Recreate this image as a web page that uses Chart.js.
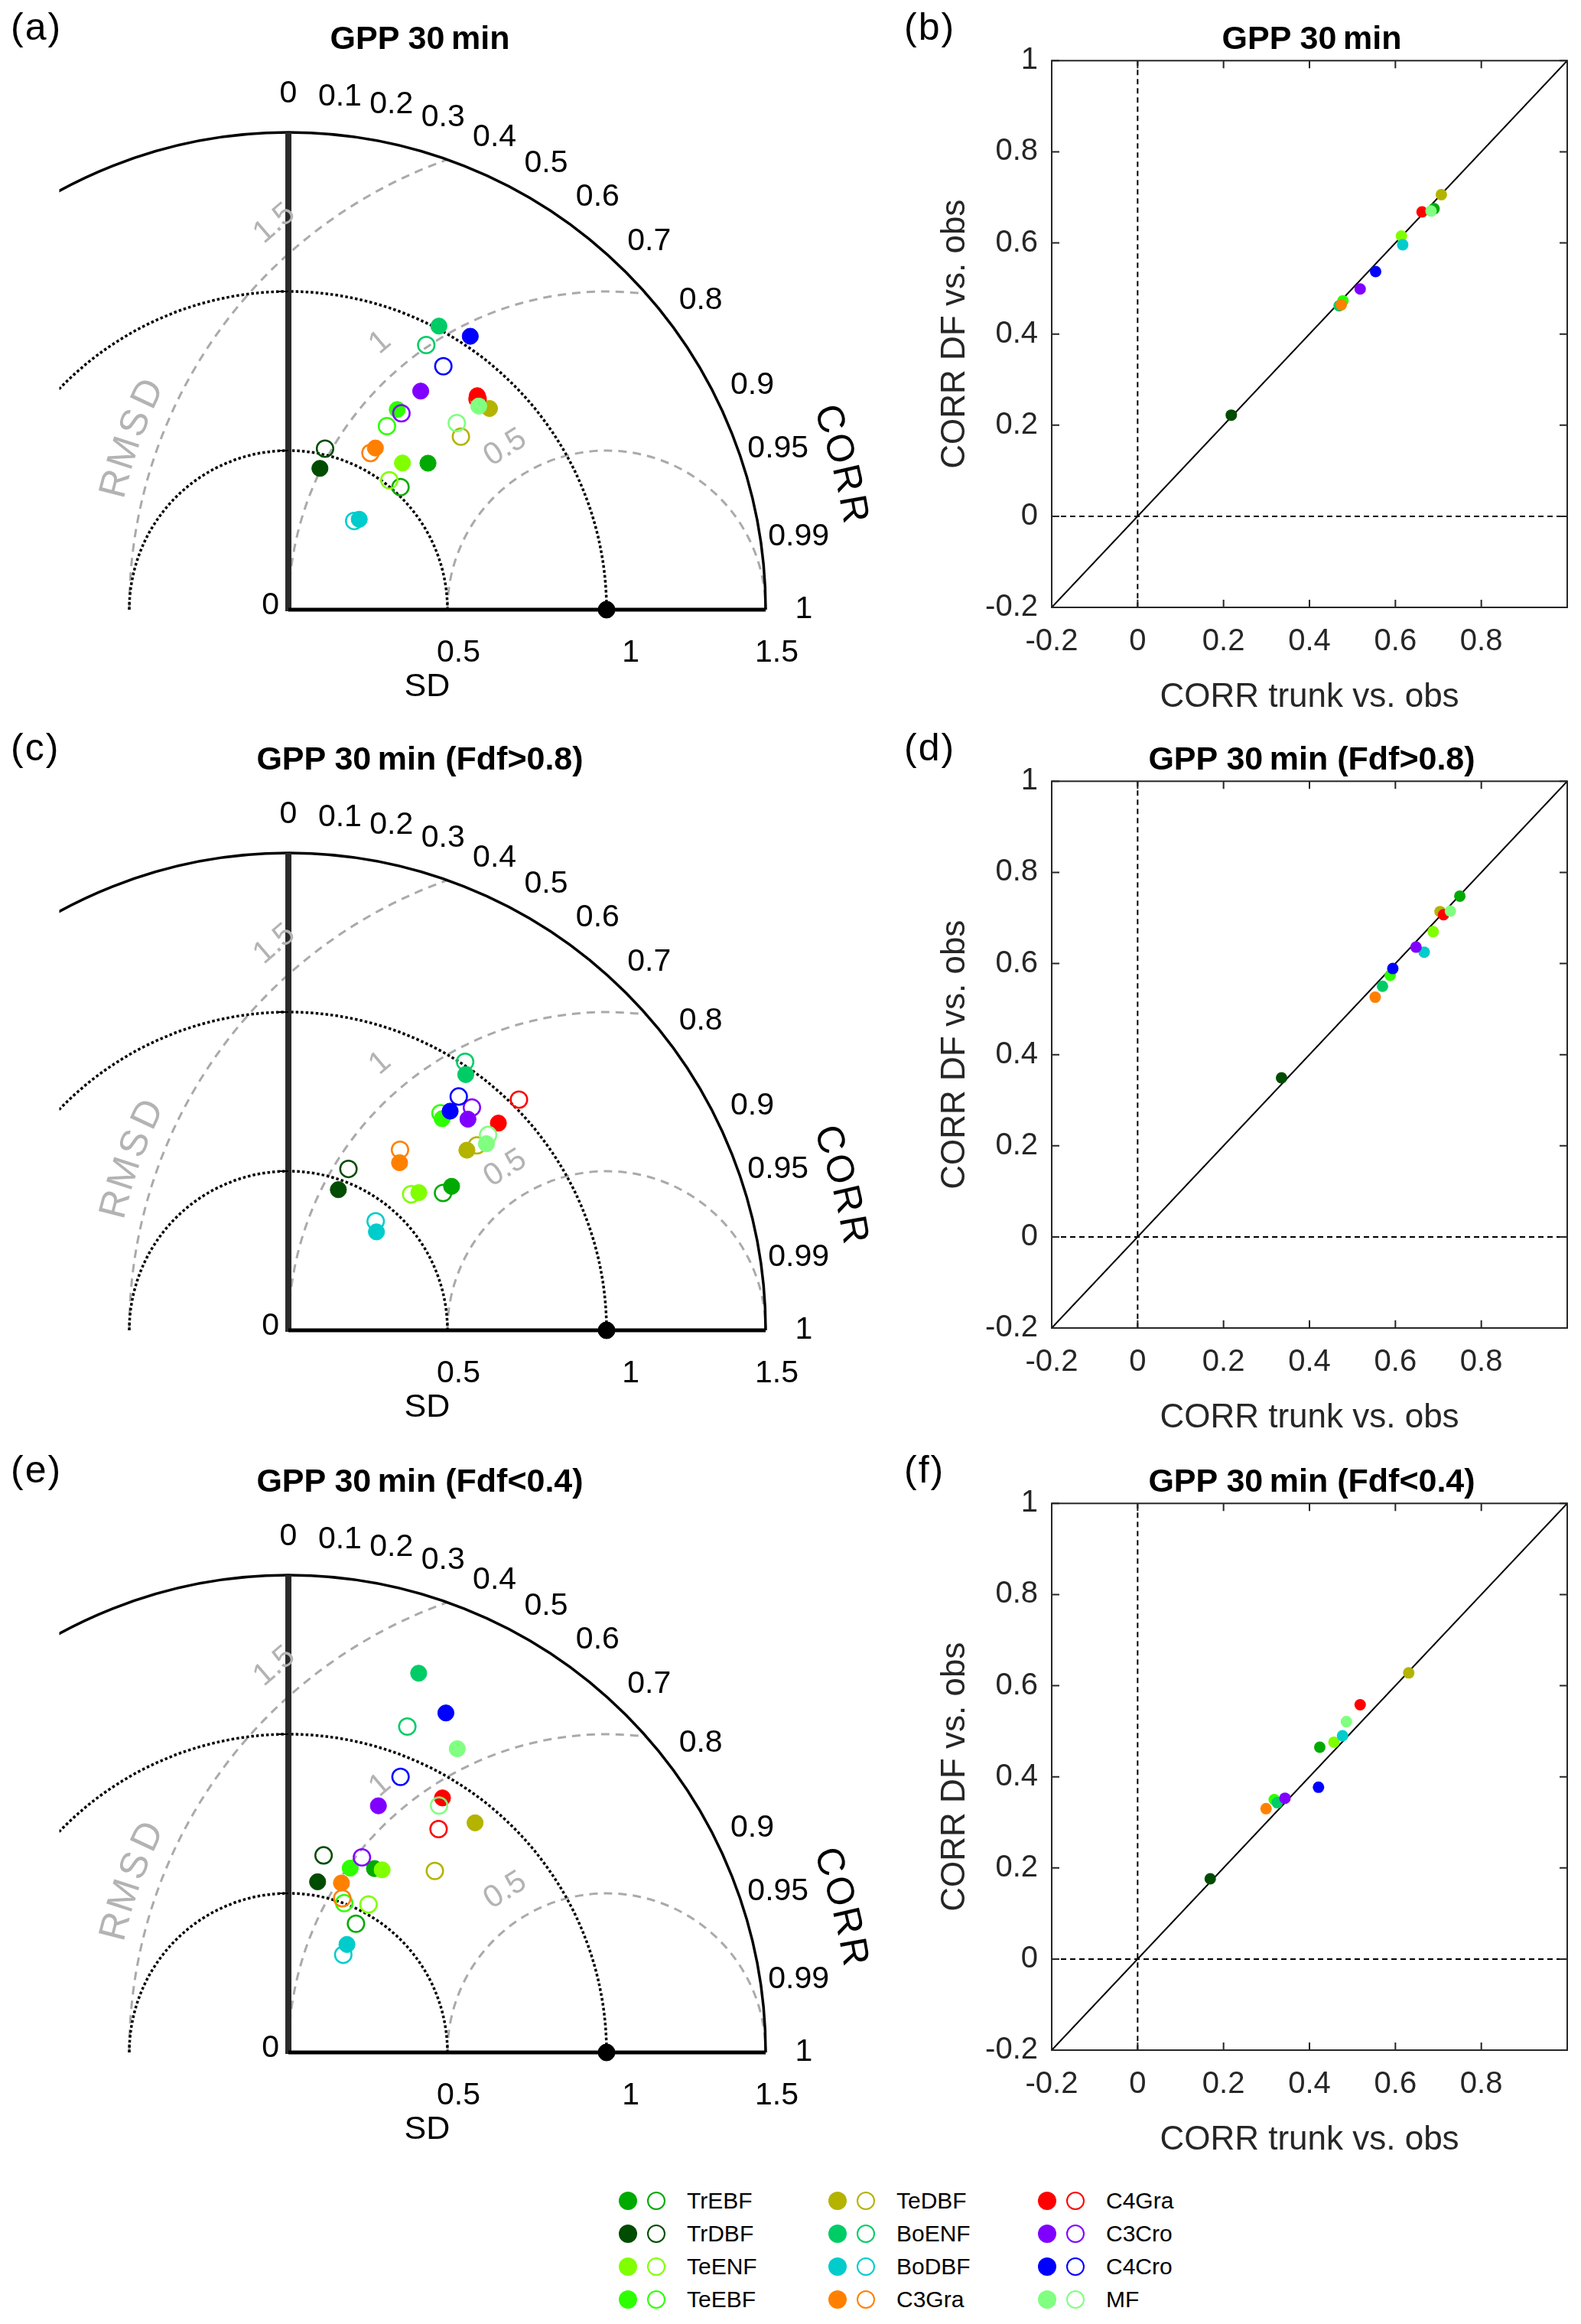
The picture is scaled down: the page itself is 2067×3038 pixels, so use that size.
<!DOCTYPE html>
<html>
<head>
<meta charset="utf-8">
<script src="https://cdn.jsdelivr.net/npm/chart.js@4.4.1/dist/chart.umd.min.js"></script>
<style>
html, body { margin: 0; padding: 0; background: #fff; }
body { width: 2067px; height: 3038px; position: relative; overflow: hidden; font-family: 'Liberation Sans', Arial, sans-serif; }
canvas { position: absolute; }
.ttl { position: absolute; width: 800px; text-align: center; font-weight: bold; font-size: 43px; line-height: 43px; color: #000; white-space: nowrap; }
.lab { position: absolute; font-size: 50px; line-height: 50px; letter-spacing: 2px; color: #000; }
.dot { position: absolute; width: 24px; height: 24px; border-radius: 50%; box-sizing: border-box; }
.ltx { position: absolute; font-size: 30px; line-height: 30px; color: #000; white-space: nowrap; }
</style>
</head>
<body>
<canvas id="ta" width="1140" height="940" style="left:0;top:0"></canvas>
<canvas id="sb" width="907" height="940" style="left:1160px;top:0"></canvas>
<canvas id="tc" width="1140" height="940" style="left:0;top:942px"></canvas>
<canvas id="sd" width="907" height="940" style="left:1160px;top:942px"></canvas>
<canvas id="te" width="1140" height="940" style="left:0;top:1886px"></canvas>
<canvas id="sf" width="907" height="940" style="left:1160px;top:1886px"></canvas>
<script>
// plant functional types and their colours
const pfts = ['TrEBF', 'TrDBF', 'TeENF', 'TeEBF', 'TeDBF', 'BoENF', 'BoDBF', 'C3Gra', 'C4Gra', 'C3Cro', 'C4Cro', 'MF'];
const pftColors = ['#00aa00', '#004c00', '#80ff00', '#2eff00', '#b3b300', '#00cc66', '#00cccc', '#ff8000', '#ff0000', '#8000ff', '#0000ff', '#80ff80'];

const titles = ['GPP 30\u2009min', 'GPP 30\u2009min (Fdf>0.8)', 'GPP 30\u2009min (Fdf<0.4)'];
const panelLetters = [['(a)', '(b)'], ['(c)', '(d)'], ['(e)', '(f)']];

// all half-hours
const corrTrunkAll = [0.690, 0.218, 0.614, 0.478, 0.707, 0.469, 0.617, 0.474, 0.662, 0.518, 0.554, 0.683];
const corrDFAll    = [0.675, 0.222, 0.615, 0.473, 0.706, 0.462, 0.596, 0.464, 0.668, 0.499, 0.537, 0.670];
const sdTrunkAll   = [0.636, 0.455, 0.584, 0.716, 0.894, 1.009, 0.361, 0.577, 0.897, 0.803, 1.032, 0.876];
const sdDFAll      = [0.522, 0.519, 0.516, 0.655, 0.768, 0.938, 0.347, 0.556, 0.890, 0.712, 0.907, 0.790];

// Fdf > 0.8
const corrTrunkHigh = [0.750, 0.335, 0.688, 0.588, 0.704, 0.570, 0.667, 0.553, 0.712, 0.648, 0.594, 0.728];
const corrDFHigh    = [0.748, 0.349, 0.670, 0.574, 0.714, 0.550, 0.625, 0.526, 0.707, 0.636, 0.589, 0.715];
const sdTrunkHigh   = [0.684, 0.469, 0.596, 0.822, 0.797, 0.978, 0.415, 0.632, 0.927, 0.871, 0.856, 0.855];
const sdDFHigh      = [0.650, 0.541, 0.576, 0.833, 0.830, 1.010, 0.439, 0.667, 1.025, 0.907, 0.909, 0.878];

// Fdf < 0.4
const corrTrunkLow = [0.424, 0.169, 0.457, 0.318, 0.631, 0.325, 0.477, 0.299, 0.518, 0.343, 0.421, 0.486];
const corrDFLow    = [0.465, 0.176, 0.476, 0.350, 0.628, 0.343, 0.490, 0.330, 0.558, 0.353, 0.377, 0.521];
const sdTrunkLow   = [0.638, 0.544, 0.645, 0.611, 0.930, 1.260, 0.386, 0.558, 0.935, 0.825, 1.176, 1.092];
const sdDFLow      = [0.457, 0.629, 0.529, 0.501, 0.733, 1.090, 0.352, 0.513, 0.846, 0.655, 0.935, 0.909];

// taylor diagram axes
const refSD = 1;
const sdMax = 1.5;
const sdArcs = [0.5, 1];
const sdTicks = [0.5, 1, 1.5];
const sdTickLabels = ['0.5', '1', '1.5'];
const corrTicks = [0, 0.1, 0.2, 0.3, 0.4, 0.5, 0.6, 0.7, 0.8, 0.9, 0.95, 0.99, 1];
const corrTickLabels = ['0', '0.1', '0.2', '0.3', '0.4', '0.5', '0.6', '0.7', '0.8', '0.9', '0.95', '0.99', '1'];
const rmsdLevels = [0.5, 1, 1.5];
const rmsdLabels = ['0.5', '1', '1.5'];

// scatter axes
const xTicks = [-0.2, 0, 0.2, 0.4, 0.6, 0.8];
const xTickLabels = ['-0.2', '0', '0.2', '0.4', '0.6', '0.8'];
const yTicks = [-0.2, 0, 0.2, 0.4, 0.6, 0.8, 1];
const yTickLabels = ['-0.2', '0', '0.2', '0.4', '0.6', '0.8', '1'];

const panels = [
  { ct: corrTrunkAll, cd: corrDFAll, st: sdTrunkAll, sd: sdDFAll },
  { ct: corrTrunkHigh, cd: corrDFHigh, st: sdTrunkHigh, sd: sdDFHigh },
  { ct: corrTrunkLow, cd: corrDFLow, st: sdTrunkLow, sd: sdDFLow }
];

const FONT = "'Liberation Sans', Arial, sans-serif";
const rowTop = [0, 942, 1886];

function polar(sd, c) {
  return { x: sd * c, y: sd * Math.sqrt(1 - c * c) };
}

function alongArc(ctx, text, cx, cy, R, startDeg, stepDeg) {
  [...text].forEach((ch, k) => {
    const phi = (startDeg - k * stepDeg) * Math.PI / 180;
    ctx.save();
    ctx.translate(cx + R * Math.cos(phi), cy - R * Math.sin(phi));
    ctx.rotate(Math.atan2(Math.cos(phi), Math.sin(phi)));
    ctx.fillText(ch, 0, 0);
    ctx.restore();
  });
}

const taylorDeco = {
  id: 'taylorDeco',
  beforeDatasetsDraw(chart) {
    const { ctx, chartArea, scales: { x, y } } = chart;
    const ox = x.getPixelForValue(0), oy = y.getPixelForValue(0);
    const u = x.getPixelForValue(1) - ox;
    const rx = x.getPixelForValue(refSD);

    ctx.save();
    ctx.beginPath();
    ctx.rect(chartArea.left, 0, chart.width, chart.height);
    ctx.clip();
    // rmsd circles round the reference
    ctx.strokeStyle = '#aaaaaa';
    ctx.lineWidth = 3;
    ctx.setLineDash([11, 8]);
    rmsdLevels.forEach(r => {
      const xi = (sdMax * sdMax + refSD * refSD - r * r) / (2 * refSD);
      const c = Math.max(-1, Math.min(1, (xi - refSD) / r));
      ctx.beginPath();
      ctx.arc(rx, oy, r * u, -Math.PI, -Math.acos(c));
      ctx.stroke();
    });
    // sd circles
    ctx.strokeStyle = '#000';
    ctx.lineWidth = 3.5;
    ctx.setLineDash([3.5, 3]);
    sdArcs.forEach(r => {
      ctx.beginPath();
      ctx.arc(ox, oy, r * u, Math.PI, 2 * Math.PI);
      ctx.stroke();
    });
    ctx.setLineDash([]);
    ctx.beginPath();
    ctx.arc(ox, oy, sdMax * u, Math.PI, 2 * Math.PI);
    ctx.stroke();
    ctx.restore();

    // axes
    ctx.save();
    ctx.strokeStyle = '#2a2a2a';
    ctx.lineWidth = 8;
    ctx.beginPath();
    ctx.moveTo(ox, oy + 2);
    ctx.lineTo(ox, y.getPixelForValue(sdMax));
    ctx.stroke();
    ctx.strokeStyle = '#000';
    ctx.lineWidth = 5;
    ctx.beginPath();
    ctx.moveTo(ox, oy);
    ctx.lineTo(x.getPixelForValue(sdMax), oy);
    ctx.stroke();
    ctx.lineWidth = 2;
    sdArcs.forEach(r => {
      const py = y.getPixelForValue(r);
      ctx.beginPath();
      ctx.moveTo(ox - 14, py);
      ctx.lineTo(ox, py);
      ctx.stroke();
    });

    // correlation labels
    ctx.fillStyle = '#000';
    ctx.textBaseline = 'middle';
    ctx.textAlign = 'center';
    ctx.font = '41px ' + FONT;
    corrTicks.forEach((c, i) => {
      const a = Math.acos(c), R = 1.62 * u;
      ctx.fillText(corrTickLabels[i], ox + R * Math.cos(a), oy - R * Math.sin(a));
    });
    // sd labels
    ctx.textAlign = 'right';
    sdTicks.forEach((v, i) => {
      ctx.fillText(sdTickLabels[i], x.getPixelForValue(v) + 43, oy + 57);
    });
    ctx.fillText('0', ox - 12, oy - 5);
    ctx.textAlign = 'center';
    ctx.font = '43px ' + FONT;
    ctx.fillText('SD', ox + 0.436 * u, oy + 101);

    ctx.font = '50px ' + FONT;
    alongArc(ctx, 'CORR', ox, oy, 1.8 * u, 19.4, 3.1);
    ctx.fillStyle = '#b3b3b3';
    alongArc(ctx, 'RMSD', rx, oy, 1.59 * u, 165.6, 3.6);

    ctx.font = '41px ' + FONT;
    const labDeg = [122, 130.3, 130.7];
    rmsdLevels.forEach((r, k) => {
      const phi = labDeg[k] * Math.PI / 180, R = (r + 0.1) * u;
      ctx.save();
      ctx.translate(rx + R * Math.cos(phi), oy - R * Math.sin(phi));
      ctx.rotate(Math.atan2(Math.cos(phi), Math.sin(phi)));
      ctx.fillText(rmsdLabels[k], 0, 0);
      ctx.restore();
    });
    ctx.restore();
  }
};

const scatterDeco = {
  id: 'scatterDeco',
  beforeDatasetsDraw(chart) {
    const { ctx, chartArea: a, scales: { x, y } } = chart;
    ctx.save();
    ctx.beginPath();
    ctx.rect(a.left, a.top, a.right - a.left, a.bottom - a.top);
    ctx.clip();
    ctx.strokeStyle = '#000';
    ctx.lineWidth = 2;
    ctx.setLineDash([7, 5]);
    const x0 = x.getPixelForValue(0), y0 = y.getPixelForValue(0);
    ctx.beginPath();
    ctx.moveTo(x0, a.top); ctx.lineTo(x0, a.bottom);
    ctx.moveTo(a.left, y0); ctx.lineTo(a.right, y0);
    ctx.stroke();
    ctx.setLineDash([]);
    ctx.beginPath();
    ctx.moveTo(x.getPixelForValue(x.min), y.getPixelForValue(x.min));
    ctx.lineTo(x.getPixelForValue(x.max), y.getPixelForValue(x.max));
    ctx.stroke();
    ctx.restore();

    ctx.save();
    ctx.strokeStyle = '#262626';
    ctx.lineWidth = 2;
    ctx.strokeRect(a.left, a.top, a.right - a.left, a.bottom - a.top);
    ctx.beginPath();
    yTicks.forEach(v => {
      const p = y.getPixelForValue(v);
      ctx.moveTo(a.left, p); ctx.lineTo(a.left + 10, p);
      ctx.moveTo(a.right, p); ctx.lineTo(a.right - 10, p);
    });
    xTicks.forEach(v => {
      const p = x.getPixelForValue(v);
      ctx.moveTo(p, a.bottom); ctx.lineTo(p, a.bottom - 10);
      ctx.moveTo(p, a.top); ctx.lineTo(p, a.top + 10);
    });
    ctx.stroke();
    ctx.restore();
  }
};

function taylorSets(p) {
  const sets = [];
  pfts.forEach((name, i) => {
    sets.push({
      label: name + ' DF',
      data: [polar(p.sd[i], p.cd[i])],
      pointRadius: 10.8,
      pointBackgroundColor: 'rgba(0,0,0,0)',
      pointBorderColor: pftColors[i],
      pointBorderWidth: 2.5,
      clip: false,
      order: -2 * i
    });
    sets.push({
      label: name + ' trunk',
      data: [polar(p.st[i], p.ct[i])],
      pointRadius: 10.6,
      pointBackgroundColor: pftColors[i],
      pointBorderColor: pftColors[i],
      pointBorderWidth: 1,
      clip: false,
      order: -2 * i - 1
    });
  });
  sets.push({
    label: 'obs',
    data: [{ x: refSD, y: 0 }],
    pointRadius: 11,
    pointBackgroundColor: '#000',
    pointBorderColor: '#000',
    clip: false,
    order: 1
  });
  return sets;
}

function makeTaylor(id, p) {
  return new Chart(document.getElementById(id).getContext('2d'), {
    type: 'scatter',
    data: { datasets: taylorSets(p) },
    options: {
      responsive: false, animation: false, devicePixelRatio: 1, events: [],
      layout: { padding: { left: 77.5, right: 139, top: 173, bottom: 143 } },
      scales: {
        x: { type: 'linear', min: -0.72, max: sdMax, display: false },
        y: { type: 'linear', min: 0, max: sdMax, display: false }
      },
      plugins: { legend: { display: false }, tooltip: { enabled: false } }
    },
    plugins: [taylorDeco]
  });
}

function makeScatter(id, p) {
  const sets = pfts.map((name, i) => ({
    label: name,
    data: [{ x: p.ct[i], y: p.cd[i] }],
    pointRadius: 7.5,
    pointBackgroundColor: pftColors[i],
    pointBorderColor: pftColors[i],
    pointBorderWidth: 0,
    order: -i
  }));
  const tickFont = { family: FONT, size: 40 };
  const titleFont = { family: FONT, size: 44 };
  return new Chart(document.getElementById(id).getContext('2d'), {
    type: 'scatter',
    data: { datasets: sets },
    options: {
      responsive: false, animation: false, devicePixelRatio: 1, events: [],
      layout: { padding: { left: 62, right: 18, top: 79.3, bottom: 0 } },
      scales: {
        x: {
          type: 'linear', min: -0.2, max: 1,
          afterBuildTicks: s => { s.ticks = xTicks.map(v => ({ value: v })); },
          afterFit: s => { s.height = 146; },
          ticks: { font: tickFont, color: '#262626', padding: 21, maxRotation: 0, callback: (v, i) => xTickLabels[i] },
          grid: { display: false, drawTicks: false },
          border: { display: false },
          title: { display: true, text: 'CORR trunk vs. obs', font: titleFont, color: '#262626', padding: { top: 0, bottom: 2 } }
        },
        y: {
          type: 'linear', min: -0.2, max: 1,
          afterBuildTicks: s => { s.ticks = yTicks.map(v => ({ value: v })); },
          afterFit: s => { s.width = 153; },
          ticks: { font: tickFont, color: '#262626', padding: 18, callback: (v, i) => yTickLabels[i] },
          grid: { display: false, drawTicks: false },
          border: { display: false },
          title: { display: true, text: 'CORR DF vs. obs', font: titleFont, color: '#262626', padding: { top: 0, bottom: 0 } }
        }
      },
      plugins: { legend: { display: false }, tooltip: { enabled: false } }
    },
    plugins: [scatterDeco]
  });
}

makeTaylor('ta', panels[0]);
makeScatter('sb', panels[0]);
makeTaylor('tc', panels[1]);
makeScatter('sd', panels[1]);
makeTaylor('te', panels[2]);
makeScatter('sf', panels[2]);

// titles and panel letters
function addDiv(cls, text, left, top) {
  const d = document.createElement('div');
  d.className = cls;
  d.textContent = text;
  d.style.left = left + 'px';
  d.style.top = top + 'px';
  document.body.appendChild(d);
  return d;
}
rowTop.forEach((t, r) => {
  addDiv('ttl', titles[r], 549 - 400, t + 28);
  addDiv('ttl', titles[r], 1715 - 400, t + 28);
  addDiv('lab', panelLetters[r][0], 14, t + 10);
  addDiv('lab', panelLetters[r][1], 1182, t + 10);
});

// legend: filled = trunk, open = DF
const legCols = [821, 1095, 1369];
const legRows = [2877, 2920, 2963, 3006];
pfts.forEach((name, i) => {
  const c = Math.floor(i / 4), r = i % 4;
  const cx = legCols[c], cy = legRows[r];
  const f = addDiv('dot', '', cx - 12, cy - 12);
  f.style.background = pftColors[i];
  const o = addDiv('dot', '', cx + 37 - 12, cy - 12);
  o.style.border = '2.5px solid ' + pftColors[i];
  addDiv('ltx', name, cx + 77, cy - 15);
});
</script>
</body>
</html>
